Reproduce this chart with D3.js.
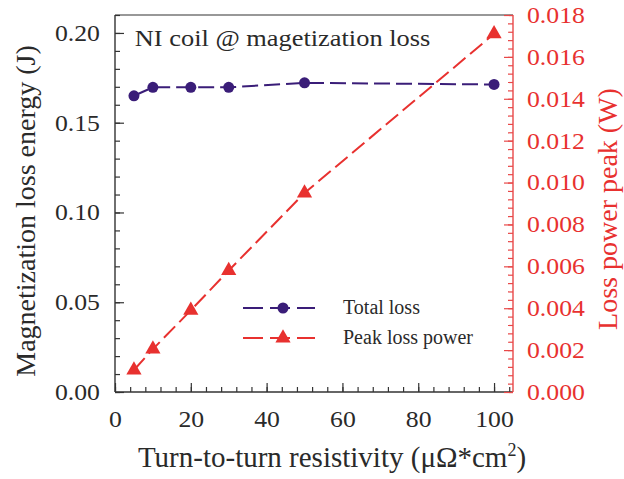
<!DOCTYPE html>
<html>
<head>
<meta charset="utf-8">
<script src="https://cdn.jsdelivr.net/npm/d3@7"></script>
<style>
  body { margin: 0; background: #fff; }
  svg text { font-family: "Liberation Serif", "Times New Roman", serif; }
</style>
</head>
<body>
<div id="container"></div>
<script>
const width = 624;
const height = 479;
const margin = { top: 15, right: 111, bottom: 87, left: 115 };

const resistivity = [5, 10, 20, 30, 50, 100];
const totalLoss = [0.165, 0.1697, 0.1697, 0.1697, 0.1722, 0.1713];
const peakPower = [0.00105, 0.00205, 0.0039, 0.0058, 0.0095, 0.0171];
const xTicks = [0, 20, 40, 60, 80, 100];
const yLeftTicks = [0, 0.05, 0.1, 0.15, 0.2];
const yRightTicks = [0, 0.002, 0.004, 0.006, 0.008, 0.01, 0.012, 0.014, 0.016, 0.018];

const purple = "#3a1d78";
const red = "#e8312f";
const axisRed = "#e84848";
const ink = "#2a2a2a";
const stretch = "scale(1.12,1)";

const iw = width - margin.left - margin.right;
const ih = height - margin.top - margin.bottom;

const svg = d3.select("#container").append("svg")
  .attr("width", width)
  .attr("height", height);

const g = svg.append("g").attr("transform", `translate(${margin.left},${margin.top})`);

const x = d3.scaleLinear().domain([0, 105]).range([0, iw]);
const yL = d3.scaleLinear().domain([0, 0.21]).range([ih, 0]);
const yR = d3.scaleLinear().domain([0, 0.018]).range([ih, 0]);

// frame top
g.append("line").attr("x1", 0).attr("x2", iw).attr("y1", 0).attr("y2", 0)
  .attr("stroke", "#333").attr("stroke-width", 1.2);

// bottom axis
g.append("g").attr("transform", `translate(0,${ih})`)
  .call(d3.axisBottom(x).tickValues(d3.range(0, 105, 4)).tickSize(-5).tickFormat(""))
  .call(s => s.select(".domain").remove())
  .call(s => s.selectAll("line").attr("stroke", "#333").attr("stroke-width", 1.2));
g.append("g").attr("transform", `translate(0,${ih})`)
  .call(d3.axisBottom(x).tickValues(xTicks).tickSize(-9).tickPadding(19).tickFormat(d3.format("d")))
  .call(s => s.select(".domain").attr("d", `M0,0H${iw}`).attr("stroke", "#333").attr("stroke-width", 1.4))
  .call(s => s.selectAll("line").attr("stroke", "#333").attr("stroke-width", 1.2))
  .call(s => s.selectAll("text").attr("font-size", 23).attr("fill", ink).attr("transform", stretch));

// left axis
g.append("g")
  .call(d3.axisLeft(yL).tickValues(d3.range(0, 0.2101, 0.01)).tickSize(-5).tickFormat(""))
  .call(s => s.select(".domain").remove())
  .call(s => s.selectAll("line").attr("stroke", "#333").attr("stroke-width", 1.2));
g.append("g")
  .call(d3.axisLeft(yL).tickValues(yLeftTicks).tickSize(-9).tickPadding(13.4).tickFormat(d3.format(".2f")))
  .call(s => s.select(".domain").attr("d", `M0,0V${ih}`).attr("stroke", "#333").attr("stroke-width", 1.4))
  .call(s => s.selectAll("line").attr("stroke", "#333").attr("stroke-width", 1.2))
  .call(s => s.selectAll("text").attr("font-size", 23).attr("fill", ink).attr("transform", stretch));

// right axis
g.append("g").attr("transform", `translate(${iw},0)`)
  .call(d3.axisRight(yR).tickValues(d3.range(0, 0.01801, 0.0004)).tickSize(-5).tickFormat(""))
  .call(s => s.select(".domain").remove())
  .call(s => s.selectAll("line").attr("stroke", axisRed).attr("stroke-width", 1.2));
g.append("g").attr("transform", `translate(${iw},0)`)
  .call(d3.axisRight(yR).tickValues(yRightTicks).tickSize(-9).tickPadding(12.5).tickFormat(d3.format(".3f")))
  .call(s => s.select(".domain").attr("d", `M0,0V${ih}`).attr("stroke", axisRed).attr("stroke-width", 1.4))
  .call(s => s.selectAll("line").attr("stroke", axisRed).attr("stroke-width", 1.2))
  .call(s => s.selectAll("text").attr("font-size", 23).attr("fill", red).attr("transform", stretch));

// series
const lossData = resistivity.map((r, i) => [r, totalLoss[i]]);
const powerData = resistivity.map((r, i) => [r, peakPower[i]]);

g.append("path").datum(powerData)
  .attr("fill", "none").attr("stroke", red).attr("stroke-width", 2)
  .attr("stroke-dasharray", "16,6")
  .attr("d", d3.line().x(d => x(d[0])).y(d => yR(d[1])));

g.append("path").datum(lossData)
  .attr("fill", "none").attr("stroke", purple).attr("stroke-width", 2)
  .attr("stroke-dasharray", "16,6")
  .attr("d", d3.line().x(d => x(d[0])).y(d => yL(d[1])));

const tri = d3.symbol().type(d3.symbolTriangle).size(100);
g.selectAll(".tri").data(powerData).join("path")
  .attr("class", "tri")
  .attr("d", tri)
  .attr("transform", d => `translate(${x(d[0])},${yR(d[1])})`)
  .attr("fill", red);

g.selectAll(".dot").data(lossData).join("circle")
  .attr("class", "dot")
  .attr("cx", d => x(d[0])).attr("cy", d => yL(d[1]))
  .attr("r", 5.5).attr("fill", purple);

// title in plot
g.append("text").attr("x", 18).attr("y", 31)
  .attr("font-size", 24).attr("fill", ink)
  .attr("transform", "scale(1.1,1)")
  .text("NI coil @ magetization loss");

// legend
const legend = g.append("g").attr("transform", `translate(${243 - margin.left},${308 - margin.top})`);
const legendItems = [
  { label: "Total loss", color: purple, shape: "circle" },
  { label: "Peak loss power", color: red, shape: "tri" },
];
const li = legend.selectAll("g").data(legendItems).join("g")
  .attr("transform", (d, i) => `translate(0,${i * 30})`);
li.append("line").attr("x1", 0).attr("x2", 72)
  .attr("stroke", d => d.color).attr("stroke-width", 2)
  .attr("stroke-dasharray", "20,7");
li.each(function (d) {
  const s = d3.select(this);
  if (d.shape === "circle") {
    s.append("circle").attr("cx", 40).attr("r", 5.5).attr("fill", d.color);
  } else {
    s.append("path").attr("d", tri).attr("transform", "translate(40,0)").attr("fill", d.color);
  }
});
li.append("text").attr("x", 100).attr("y", 6)
  .attr("font-size", 20).attr("fill", ink)
  .text(d => d.label);

// axis titles
svg.append("text")
  .attr("transform", "translate(35,211) rotate(-90)")
  .attr("text-anchor", "middle").attr("font-size", 28).attr("fill", ink)
  .text("Magnetization loss energy (J)");

svg.append("text")
  .attr("transform", "translate(617,209) rotate(-90)")
  .attr("text-anchor", "middle").attr("font-size", 28).attr("fill", red)
  .text("Loss power peak (W)");

const xt = svg.append("text")
  .attr("x", 332).attr("y", 467)
  .attr("text-anchor", "middle").attr("font-size", 29).attr("fill", ink);
xt.append("tspan").text("Turn-to-turn resistivity (μΩ*cm");
xt.append("tspan").attr("dy", -11).attr("font-size", 18).text("2");
xt.append("tspan").attr("dy", 11).text(")");
</script>
</body>
</html>
